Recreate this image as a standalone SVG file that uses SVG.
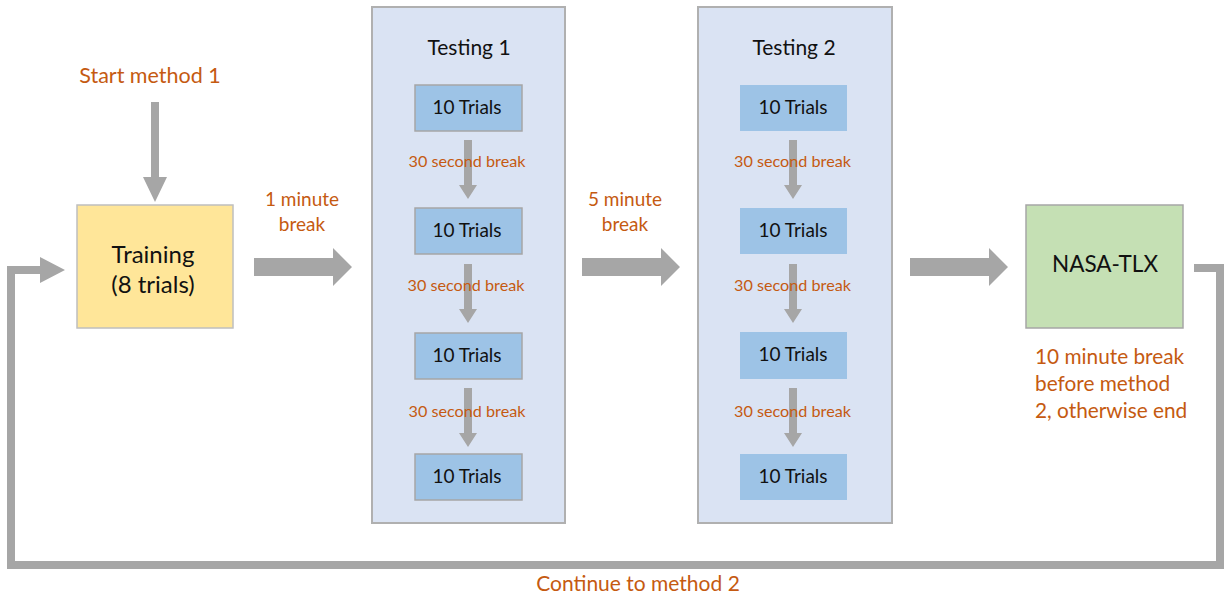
<svg xmlns="http://www.w3.org/2000/svg" width="1225" height="598" viewBox="0 0 1225 598">
  <style>
    text { font-family: Lato, "Liberation Sans", sans-serif; }
    .note { fill: #c55a11; }
    .dark { fill: #111111; }
    .trial { fill: #9dc3e6; }
    .trial-b { stroke: #a6a6a6; stroke-width: 1.5; }
    .panel { fill: #dae3f3; stroke: #b0b0b0; stroke-width: 2; }
    .arrow { fill: #a6a6a6; }
  </style>
  <defs>
    <!-- small vertical arrow between trial blocks: shaft + head, tip at 0,0 -->
    <path id="down-small" d="M-4,-59 H4 V-14 H9 L0,0 L-9,-14 H-4 Z"/>
    <!-- large horizontal block arrow, tip at 0,0 -->
    <path id="right-big" d="M-98,-9 H-19 V-19 L0,0 L-19,19 V9 H-98 Z"/>
  </defs>
  <rect width="1225" height="598" fill="#ffffff"/>

  <text class="note" x="150" y="83" font-size="21.5" text-anchor="middle">Start method 1</text>

  <g id="training">
    <rect x="77" y="205" width="156" height="123" fill="#ffe699" stroke="#bfbfbf" stroke-width="1.5"/>
    <text class="dark" x="153" y="263" font-size="24" text-anchor="middle">Training</text>
    <text class="dark" x="153" y="293" font-size="24" text-anchor="middle">(8 trials)</text>
  </g>

  <g id="break-1min">
    <text class="note" x="302" y="206" font-size="19" text-anchor="middle">1 minute</text>
    <text class="note" x="302" y="231" font-size="19" text-anchor="middle">break</text>
  </g>

  <g id="testing-1">
    <rect class="panel" x="372" y="7" width="193" height="516"/>
    <text class="dark" x="469" y="55" font-size="21" text-anchor="middle">Testing 1</text>
    <rect class="trial trial-b" x="415" y="85" width="107" height="46"/>
    <rect class="trial trial-b" x="415" y="208" width="107" height="46"/>
    <rect class="trial trial-b" x="415" y="333" width="107" height="46"/>
    <rect class="trial trial-b" x="415" y="454" width="107" height="46"/>
    <text class="dark" x="467" y="114" font-size="19" text-anchor="middle">10 Trials</text>
    <text class="dark" x="467" y="237" font-size="19" text-anchor="middle">10 Trials</text>
    <text class="dark" x="467" y="362" font-size="19" text-anchor="middle">10 Trials</text>
    <text class="dark" x="467" y="483" font-size="19" text-anchor="middle">10 Trials</text>
  </g>

  <g id="break-5min">
    <text class="note" x="625" y="206" font-size="19" text-anchor="middle">5 minute</text>
    <text class="note" x="625" y="231" font-size="19" text-anchor="middle">break</text>
  </g>

  <g id="testing-2">
    <rect class="panel" x="698" y="7" width="194" height="516"/>
    <text class="dark" x="794" y="55" font-size="21" text-anchor="middle">Testing 2</text>
    <rect class="trial" x="740" y="85" width="107" height="46"/>
    <rect class="trial" x="740" y="208" width="107" height="46"/>
    <rect class="trial" x="740" y="332" width="107" height="47"/>
    <rect class="trial" x="740" y="454" width="107" height="46"/>
    <text class="dark" x="793" y="114" font-size="19" text-anchor="middle">10 Trials</text>
    <text class="dark" x="793" y="237" font-size="19" text-anchor="middle">10 Trials</text>
    <text class="dark" x="793" y="361" font-size="19" text-anchor="middle">10 Trials</text>
    <text class="dark" x="793" y="483" font-size="19" text-anchor="middle">10 Trials</text>
  </g>

  <g id="nasa-tlx">
    <rect x="1026" y="205" width="157" height="123" fill="#c5e0b4" stroke="#a6a6a6" stroke-width="1.5"/>
    <text class="dark" x="1105" y="272" font-size="22.5" text-anchor="middle">NASA-TLX</text>
  </g>

  <g id="break-10min">
    <text class="note" x="1035" y="364" font-size="20.8">10 minute break</text>
    <text class="note" x="1035" y="391" font-size="20.8">before method</text>
    <text class="note" x="1035" y="418" font-size="20.8">2, otherwise end</text>
  </g>

  <!-- connectors -->
  <g id="connectors" class="arrow">
    <!-- entry into training -->
    <path d="M151,102 H159 V177 H167 L155,202 L143,177 H151 Z"/>
    <use href="#right-big" x="352" y="267"/>
    <use href="#right-big" x="680" y="267"/>
    <use href="#right-big" x="1008" y="267"/>
    <!-- loop back to training -->
    <path d="M1194,264 H1224 V569 H7 V266 H40 V257 L65,270 L40,283 V274 H15 V561 H1216 V272 H1194 Z"/>
    <!-- breaks inside testing 1 -->
    <use href="#down-small" x="468" y="199"/>
    <use href="#down-small" x="468" y="323"/>
    <use href="#down-small" x="468" y="447"/>
    <!-- breaks inside testing 2 -->
    <use href="#down-small" x="793" y="199"/>
    <use href="#down-small" x="793" y="323"/>
    <use href="#down-small" x="793" y="447"/>
  </g>

  <!-- break labels sit over the small arrows -->
  <g id="break-labels" class="note" font-size="16.2" text-anchor="middle">
    <text x="467" y="167">30 second break</text>
    <text x="466" y="291">30 second break</text>
    <text x="467" y="417">30 second break</text>
    <text x="792.5" y="167">30 second break</text>
    <text x="792.5" y="291">30 second break</text>
    <text x="792.5" y="417">30 second break</text>
  </g>

  <text class="note" x="638" y="591" font-size="21" text-anchor="middle">Continue to method 2</text>
</svg>
